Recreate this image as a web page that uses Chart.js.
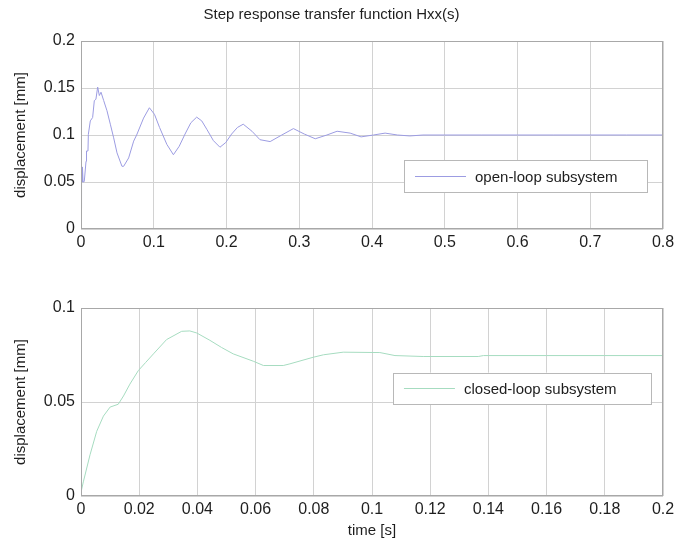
<!DOCTYPE html>
<html>
<head>
<meta charset="utf-8">
<script src="https://cdn.jsdelivr.net/npm/chart.js@4/dist/chart.umd.min.js"></script>
<style>
  body { margin: 0; background: #fff; }
  .box { position: absolute; left: 0; width: 674px; }
  #top { top: 0; height: 255px; }
  #bottom { top: 290px; height: 250px; }
</style>
</head>
<body>
<div class="box" id="top"><canvas id="openLoopChart"></canvas></div>
<div class="box" id="bottom"><canvas id="closedLoopChart"></canvas></div>
<script>
// open-loop step response
const openT = [0, 0.0005, 0.001, 0.0015, 0.002, 0.0028, 0.0045, 0.0069, 0.0076, 0.0096, 0.0101, 0.0128, 0.016, 0.0183, 0.0205,
  0.0229, 0.0252, 0.0275, 0.0312, 0.0357, 0.0403, 0.0449, 0.0495, 0.0563, 0.0586, 0.0655, 0.0724, 0.0765, 0.086, 0.094,
  0.101, 0.108, 0.118, 0.127, 0.135, 0.143, 0.151, 0.159, 0.166, 0.173, 0.182, 0.191, 0.199, 0.207,
  0.215, 0.223, 0.235, 0.246, 0.26, 0.276, 0.292, 0.307, 0.322, 0.338, 0.352, 0.37, 0.385, 0.402, 0.418, 0.435, 0.452, 0.47,
  0.5, 0.55, 0.6, 0.65, 0.7, 0.75, 0.8];
const openY = [0.022, 0.036, 0.067, 0.05, 0.066, 0.05, 0.0505, 0.072, 0.083, 0.083, 0.1007, 0.115, 0.1186, 0.1366, 0.138,
  0.151, 0.142, 0.1455, 0.1366, 0.1258, 0.1115, 0.097, 0.081, 0.0667, 0.0667, 0.0756, 0.0935, 0.1, 0.118, 0.129,
  0.122, 0.108, 0.09, 0.079, 0.088, 0.101, 0.113, 0.119, 0.115, 0.106, 0.094, 0.087, 0.092, 0.101,
  0.108, 0.1115, 0.104, 0.095, 0.093, 0.1, 0.1068, 0.101, 0.096, 0.1, 0.104, 0.102, 0.098, 0.1, 0.102, 0.1, 0.099, 0.1,
  0.1, 0.1, 0.1, 0.1, 0.1, 0.1, 0.1];

// closed-loop step response
const closedT = [0, 0.0008, 0.0031, 0.0054, 0.0077, 0.01, 0.0128, 0.0146, 0.0168, 0.0197, 0.0222, 0.0249, 0.0294, 0.0346, 0.0374,
  0.0398, 0.0443, 0.0483, 0.0523, 0.0592, 0.0627, 0.0695, 0.0718, 0.0798, 0.0833, 0.0901, 0.1027, 0.1079, 0.1176, 0.1365,
  0.1383, 0.16, 0.18, 0.2];
const closedY = [0.002, 0.0075, 0.0219, 0.0344, 0.0425, 0.0473, 0.0488, 0.0532, 0.0595, 0.0667, 0.071, 0.0756, 0.0832, 0.0876, 0.0878,
  0.0867, 0.0828, 0.079, 0.0756, 0.0717, 0.0694, 0.0694, 0.0703, 0.0738, 0.0751, 0.0765, 0.0763, 0.0747, 0.0742, 0.0742,
  0.0747, 0.0747, 0.0747, 0.0747];

const openTicksX = [0, 0.1, 0.2, 0.3, 0.4, 0.5, 0.6, 0.7, 0.8];
const closedTicksX = [0, 0.02, 0.04, 0.06, 0.08, 0.1, 0.12, 0.14, 0.16, 0.18, 0.2];

const FONT = 'Liberation Sans, Arial, sans-serif';
const TXT = '#1e1e1e';
const GRID = '#d2d2d2';

function pts(xs, ys) {
  return xs.map((x, i) => ({ x: x, y: ys[i] }));
}

// draws the box round the plot and a legend inside it
const boxLegend = {
  id: 'boxLegend',
  afterDatasetsDraw(chart, args, opts) {
    const { ctx, chartArea: a } = chart;
    ctx.save();
    ctx.strokeStyle = '#a8a8a8';
    ctx.lineWidth = 1;
    ctx.strokeRect(a.left + 0.5, a.top + 0.5, a.width - 1, a.height - 1);

    const w = a.width, h = a.height;
    const x0 = a.left + opts.x[0] * w, x1 = a.left + opts.x[1] * w;
    const y0 = a.top + opts.y[0] * h, y1 = a.top + opts.y[1] * h;
    ctx.fillStyle = '#fff';
    ctx.fillRect(x0, y0, x1 - x0, y1 - y0);
    ctx.strokeStyle = '#b8b8b8';
    ctx.strokeRect(Math.round(x0) + 0.5, Math.round(y0) + 0.5, Math.round(x1 - x0), Math.round(y1 - y0));
    const ds = chart.data.datasets[0];
    const my = Math.round((y0 + y1) / 2) + 0.5;
    ctx.strokeStyle = ds.borderColor;
    ctx.beginPath();
    ctx.moveTo(x0 + 11, my);
    ctx.lineTo(x0 + 62, my);
    ctx.stroke();
    ctx.fillStyle = TXT;
    ctx.font = '15px ' + FONT;
    ctx.textBaseline = 'middle';
    ctx.fillText(ds.label, x0 + 71, my + 1);
    ctx.restore();
  }
};

function makeChart(id, cfg) {
  return new Chart(document.getElementById(id), {
    type: 'scatter',
    data: {
      datasets: [{
        label: cfg.label,
        data: pts(cfg.xs, cfg.ys),
        showLine: true,
        borderColor: cfg.color,
        borderWidth: 1,
        pointRadius: 0,
        tension: 0
      }]
    },
    options: {
      responsive: true,
      maintainAspectRatio: false,
      animation: false,
      layout: { padding: cfg.padding },
      plugins: {
        legend: { display: false },
        tooltip: { enabled: false },
        title: cfg.title ? {
          display: true,
          text: cfg.title,
          color: TXT,
          font: { family: FONT, size: 15, weight: 'normal' },
          padding: { top: 0, bottom: 17 }
        } : { display: false },
        boxLegend: cfg.legendPos
      },
      scales: {
        x: {
          type: 'linear',
          min: cfg.xTicks[0],
          max: cfg.xTicks[cfg.xTicks.length - 1],
          afterBuildTicks: s => { s.ticks = cfg.xTicks.map(v => ({ value: v })); },
          afterFit: s => { s.height = cfg.xHeight; s.paddingLeft = 0; s.paddingRight = 0; },
          grid: { color: GRID, drawTicks: false },
          border: { display: false },
          ticks: {
            color: TXT,
            padding: 4,
            maxRotation: 0,
            autoSkip: false,
            font: { family: FONT, size: 16 },
            callback: v => String(+v.toFixed(3))
          },
          title: cfg.xTitle ? {
            display: true,
            text: cfg.xTitle,
            color: TXT,
            font: { family: FONT, size: 15 },
            padding: { top: 0, bottom: 0 }
          } : { display: false }
        },
        y: {
          min: 0,
          max: cfg.yMax,
          afterBuildTicks: s => { s.ticks = cfg.yTicks.map(v => ({ value: v })); },
          afterFit: s => { s.width = 81; },
          grid: { color: GRID, drawTicks: false },
          border: { display: false },
          ticks: {
            color: TXT,
            padding: 6,
            font: { family: FONT, size: 16 },
            callback: v => String(+v.toFixed(3))
          },
          title: {
            display: true,
            text: 'displacement [mm]',
            color: TXT,
            font: { family: FONT, size: 15 },
            padding: { top: 12, bottom: 0 }
          }
        }
      }
    },
    plugins: [boxLegend]
  });
}

makeChart('openLoopChart', {
  label: 'open-loop subsystem',
  xs: openT, ys: openY,
  color: '#9c9ce2',
  xTicks: openTicksX,
  yTicks: [0, 0.05, 0.1, 0.15, 0.2],
  yMax: 0.2,
  xHeight: 26,
  title: 'Step response transfer function Hxx(s)',
  padding: { left: 0, right: 11, top: 6, bottom: 0 },
  legendPos: { x: [0.555, 0.9725], y: [0.634, 0.806] }
});

makeChart('closedLoopChart', {
  label: 'closed-loop subsystem',
  xs: closedT, ys: closedY,
  color: '#a6dcc0',
  xTicks: closedTicksX,
  yTicks: [0, 0.05, 0.1],
  yMax: 0.1,
  xHeight: 44,
  xTitle: 'time [s]',
  padding: { left: 0, right: 11, top: 18, bottom: 0 },
  legendPos: { x: [0.536, 0.979], y: [0.344, 0.511] }
});
</script>
</body>
</html>
